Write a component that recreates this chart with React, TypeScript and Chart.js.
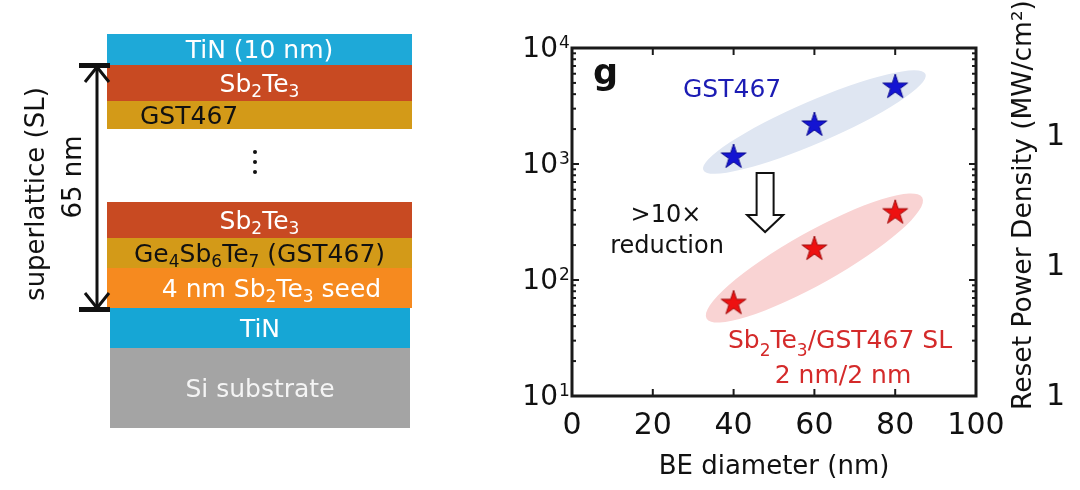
import React, { useEffect, useRef } from "react";
import { Chart, registerables } from "chart.js";

Chart.register(...registerables);

const FONT = "'DejaVu Sans', 'Liberation Sans', Arial, sans-serif";

// ---- data ----
const diameters = [40, 60, 80];
const gst467Density = [1150, 2170, 4600];
const slDensity = [63, 185, 380];
const xTickValues = [0, 20, 40, 60, 80, 100];
const yDecadeExponents = [1, 2, 3, 4];
const rightTickValues = [0, 1, 2];
const rightTickLabels = ["1", "1", "1"];
const seriesNames = ["GST467", "Sb2Te3/GST467 SL"];

function makeStar(fill: string, edge: string, R: number) {
  const c = document.createElement("canvas");
  const s = Math.ceil(2 * R + 4);
  c.width = s;
  c.height = s;
  const ctx = c.getContext("2d")!;
  const cx = s / 2;
  const cy = s / 2;
  ctx.beginPath();
  for (let i = 0; i < 10; i++) {
    const r = i % 2 === 0 ? R : R * 0.382;
    const a = -Math.PI / 2 + (i * Math.PI) / 5;
    const x = cx + r * Math.cos(a);
    const y = cy + r * Math.sin(a);
    if (i === 0) ctx.moveTo(x, y);
    else ctx.lineTo(x, y);
  }
  ctx.closePath();
  ctx.fillStyle = fill;
  ctx.fill();
  ctx.strokeStyle = edge;
  ctx.lineWidth = 1;
  ctx.stroke();
  return c;
}

type Part = [string, boolean];

function drawRich(ctx: CanvasRenderingContext2D, parts: Part[], x: number, y: number, size: number) {
  const subSize = size * 0.68;
  const widths = parts.map(([t, sub]) => {
    ctx.font = `${sub ? subSize : size}px ${FONT}`;
    return ctx.measureText(t).width;
  });
  const total = widths.reduce((a, b) => a + b, 0);
  let cx = x - total / 2;
  ctx.textAlign = "left";
  ctx.textBaseline = "alphabetic";
  parts.forEach(([t, sub], i) => {
    ctx.font = `${sub ? subSize : size}px ${FONT}`;
    ctx.fillText(t, cx, sub ? y + size * 0.32 : y);
    cx += widths[i];
  });
}

const decorPlugin = {
  id: "decor",
  beforeDatasetsDraw(chart: any) {
    const ctx = chart.ctx as CanvasRenderingContext2D;
    const specs: [number, string, number, number][] = [
      [0, "#dfe6f2", 33, 21],
      [1, "#f9d3d3", 31, 26],
    ];
    specs.forEach(([di, color, pad, b]) => {
      const meta = chart.getDatasetMeta(di);
      const p0 = meta.data[0];
      const p1 = meta.data[meta.data.length - 1];
      const cx = (p0.x + p1.x) / 2;
      const cy = (p0.y + p1.y) / 2;
      const ang = Math.atan2(p1.y - p0.y, p1.x - p0.x);
      const a = Math.hypot(p1.x - p0.x, p1.y - p0.y) / 2 + pad;
      ctx.save();
      ctx.fillStyle = color;
      ctx.beginPath();
      ctx.ellipse(cx, cy, a, b, ang, 0, Math.PI * 2);
      ctx.fill();
      ctx.restore();
    });
  },
  afterDraw(chart: any) {
    const ctx = chart.ctx as CanvasRenderingContext2D;
    const ca = chart.chartArea;
    const xs = chart.scales.x;
    const ys = chart.scales.y;
    const y2 = chart.scales.y2;
    const line = (x1: number, y1: number, x2: number, yb: number) => {
      ctx.beginPath();
      ctx.moveTo(x1, y1);
      ctx.lineTo(x2, yb);
      ctx.stroke();
    };
    ctx.save();
    ctx.strokeStyle = "#1a1a1a";
    ctx.lineWidth = 2;
    // x ticks (inward, bottom and top)
    xTickValues.forEach((v) => {
      if (v <= xs.min || v >= xs.max) return;
      const px = xs.getPixelForValue(v);
      line(px, ca.bottom, px, ca.bottom - 7);
      line(px, ca.top, px, ca.top + 7);
    });
    // y ticks (log, inward, left and right)
    yDecadeExponents.forEach((e) => {
      const base = Math.pow(10, e);
      const py = ys.getPixelForValue(base);
      line(ca.left, py, ca.left + 7, py);
      line(ca.right, py, ca.right - 7, py);
      for (let m = 2; m <= 9; m++) {
        const v = m * base;
        if (v >= ys.max) break;
        const pm = ys.getPixelForValue(v);
        line(ca.left, pm, ca.left + 4, pm);
        line(ca.right, pm, ca.right - 4, pm);
      }
    });
    // box
    ctx.lineWidth = 3;
    ctx.strokeRect(ca.left, ca.top, ca.right - ca.left, ca.bottom - ca.top);

    // y tick labels 10^n
    ctx.fillStyle = "#111";
    yDecadeExponents.forEach((e) => {
      const py = ys.getPixelForValue(Math.pow(10, e));
      ctx.font = `28px ${FONT}`;
      ctx.textAlign = "right";
      ctx.textBaseline = "middle";
      ctx.fillText("10", ca.left - 14, py + 2);
      ctx.font = `17px ${FONT}`;
      ctx.textAlign = "left";
      ctx.fillText(String(e), ca.left - 13, py - 4);
    });

    // right-hand tick labels
    ctx.font = `30px ${FONT}`;
    ctx.textAlign = "left";
    ctx.textBaseline = "middle";
    rightTickValues.forEach((v, i) => {
      ctx.fillText(rightTickLabels[i], ca.right + 70, y2.getPixelForValue(v) + 1);
    });

    // right axis title (reads bottom-to-top)
    ctx.save();
    ctx.translate(ca.right + 55, ca.bottom + 14);
    ctx.rotate(-Math.PI / 2);
    ctx.font = `26.5px ${FONT}`;
    ctx.textAlign = "left";
    ctx.textBaseline = "alphabetic";
    ctx.fillStyle = "#111";
    ctx.fillText("Reset Power Density (MW/cm\u00B2)", 0, 0);
    ctx.restore();

    // panel letter
    ctx.font = `bold 35px ${FONT}`;
    ctx.textAlign = "left";
    ctx.textBaseline = "alphabetic";
    ctx.fillStyle = "#111";
    ctx.fillText("g", ca.left + 21, ca.top + 36);

    // series labels
    ctx.fillStyle = "#1c1cb4";
    ctx.font = `25px ${FONT}`;
    ctx.fillText(seriesNames[0], ca.left + 111, ca.top + 49);

    ctx.fillStyle = "#d42a2a";
    drawRich(ctx, [["Sb", false], ["2", true], ["Te", false], ["3", true], ["/GST467 SL", false]], ca.left + 268, ca.top + 300, 25);
    drawRich(ctx, [["2 nm/2 nm", false]], ca.left + 271, ca.top + 335, 25);

    // reduction note
    ctx.fillStyle = "#111";
    ctx.font = `24px ${FONT}`;
    ctx.textAlign = "center";
    ctx.fillText(">10\u00D7", ca.left + 94, ca.top + 174);
    ctx.fillText("reduction", ca.left + 95, ca.top + 205);

    // hollow down arrow
    const ax = xs.getPixelForValue(47.8);
    const at = ca.top + 125;
    ctx.beginPath();
    ctx.moveTo(ax - 8.5, at);
    ctx.lineTo(ax + 8.5, at);
    ctx.lineTo(ax + 8.5, at + 42);
    ctx.lineTo(ax + 18, at + 42);
    ctx.lineTo(ax, at + 59);
    ctx.lineTo(ax - 18, at + 42);
    ctx.lineTo(ax - 8.5, at + 42);
    ctx.closePath();
    ctx.fillStyle = "#fff";
    ctx.fill();
    ctx.lineWidth = 2;
    ctx.strokeStyle = "#111";
    ctx.stroke();
    ctx.restore();
  },
};

const subStyle: React.CSSProperties = { fontSize: "0.68em", verticalAlign: "-0.3em", lineHeight: 0 };

function Layer(props: {
  top: number;
  height: number;
  bg: string;
  color: string;
  left?: number;
  width?: number;
  justify?: string;
  pad?: number;
  children: React.ReactNode;
}) {
  const { top, height, bg, color, left = 107, width = 305, justify = "center", pad = 0, children } = props;
  return (
    <div
      style={{
        position: "absolute",
        top,
        left,
        width,
        height,
        background: bg,
        color,
        display: "flex",
        alignItems: "center",
        justifyContent: justify,
        paddingLeft: pad,
        boxSizing: "border-box",
        fontSize: 25,
        fontFamily: FONT,
        whiteSpace: "nowrap",
        lineHeight: 1,
      }}
    >
      <span>{children}</span>
    </div>
  );
}

function Stack() {
  const sb2te3 = (
    <>
      Sb<sub style={subStyle}>2</sub>Te<sub style={subStyle}>3</sub>
    </>
  );
  const rot = (cx: number, cy: number, text: string) => (
    <div
      style={{
        position: "absolute",
        left: cx,
        top: cy,
        transform: "translate(-50%, -50%) rotate(-90deg)",
        fontFamily: FONT,
        fontSize: 26,
        color: "#111",
        whiteSpace: "nowrap",
        lineHeight: 1,
      }}
    >
      {text}
    </div>
  );
  return (
    <div style={{ position: "absolute", left: 0, top: 0, width: 480, height: 490 }}>
      <Layer top={34} height={31} bg="#1ea9d8" color="#fff">TiN (10 nm)</Layer>
      <Layer top={65} height={36} bg="#c84a22" color="#fff">{sb2te3}</Layer>
      <Layer top={101} height={28} bg="#d39a18" color="#111" justify="flex-start" pad={33}>GST467</Layer>
      {[152, 162, 172].map((y) => (
        <div key={y} style={{ position: "absolute", left: 253, top: y - 2, width: 4, height: 4, borderRadius: 2, background: "#111" }} />
      ))}
      <Layer top={202} height={36} bg="#c84a22" color="#fff">{sb2te3}</Layer>
      <Layer top={238} height={30} bg="#d39a18" color="#111">
        <>
          Ge<sub style={subStyle}>4</sub>Sb<sub style={subStyle}>6</sub>Te<sub style={subStyle}>7</sub> (GST467)
        </>
      </Layer>
      <Layer top={268} height={40} bg="#f68a1f" color="#fff" pad={24}>
        <>4 nm {sb2te3} seed</>
      </Layer>
      <Layer top={308} height={40} left={110} width={300} bg="#16a6d5" color="#fff">TiN</Layer>
      <Layer top={348} height={80} left={110} width={300} bg="#a4a4a4" color="#f4f4f4">Si substrate</Layer>
      <svg width={480} height={490} style={{ position: "absolute", left: 0, top: 0 }}>
        <line x1={97} y1={66} x2={97} y2={309} stroke="#111" strokeWidth={3} />
        <rect x={79} y={63} width={31} height={5} fill="#111" />
        <rect x={79} y={307} width={31} height={5} fill="#111" />
        <polyline points="85,82 97,67 109,82" fill="none" stroke="#111" strokeWidth={3} />
        <polyline points="85,293 97,308 109,293" fill="none" stroke="#111" strokeWidth={3} />
      </svg>
      {rot(35, 194, "superlattice (SL)")}
      {rot(72, 177, "65 nm")}
    </div>
  );
}

export default function App() {
  const ref = useRef<HTMLCanvasElement | null>(null);
  useEffect(() => {
    if (!ref.current) return;
    const blueStar = makeStar("#1414d2", "#0a0a90", 13);
    const redStar = makeStar("#ee1111", "#a00a0a", 13);
    const chart = new Chart(ref.current, {
      type: "scatter",
      data: {
        datasets: [
          {
            label: seriesNames[0],
            data: diameters.map((d, i) => ({ x: d, y: gst467Density[i] })),
            pointStyle: blueStar as any,
            pointRadius: 13,
            showLine: false,
          },
          {
            label: seriesNames[1],
            data: diameters.map((d, i) => ({ x: d, y: slDensity[i] })),
            pointStyle: redStar as any,
            pointRadius: 13,
            showLine: false,
          },
        ],
      },
      options: {
        responsive: false,
        animation: false,
        layout: { padding: { top: 48, left: 0, right: 0, bottom: 0 } },
        plugins: { legend: { display: false }, tooltip: { enabled: false } },
        scales: {
          x: {
            type: "linear",
            position: "bottom",
            min: 0,
            max: 100,
            afterBuildTicks: (s: any) => {
              s.ticks = xTickValues.map((v) => ({ value: v }));
            },
            ticks: {
              font: { family: FONT, size: 30 },
              color: "#111",
              padding: 12,
              maxRotation: 0,
              autoSkip: false,
              callback: (v: any) => String(v),
            },
            grid: { display: false, drawTicks: false },
            border: { display: false },
            title: {
              display: true,
              text: "BE diameter (nm)",
              font: { family: FONT, size: 26 },
              color: "#111",
              padding: { top: 0, bottom: 7 },
            },
            afterFit: (s: any) => {
              s.height = 94;
            },
          },
          y: {
            type: "logarithmic",
            position: "left",
            min: 10,
            max: 10000,
            ticks: { display: false },
            grid: { display: false, drawTicks: false },
            border: { display: false },
            afterFit: (s: any) => {
              s.width = 572;
            },
          },
          y2: {
            type: "linear",
            position: "right",
            min: 0,
            max: 2.68,
            ticks: { display: false },
            grid: { display: false, drawTicks: false },
            border: { display: false },
            afterFit: (s: any) => {
              s.width = 104;
            },
          },
        },
      } as any,
      plugins: [decorPlugin],
    });
    return () => chart.destroy();
  }, []);

  return (
    <div style={{ position: "fixed", left: 0, top: 0, width: 1080, height: 490, background: "#fff", overflow: "hidden" }}>
      <canvas ref={ref} width={1080} height={490} style={{ position: "absolute", left: 0, top: 0, width: 1080, height: 490 }} />
      <Stack />
    </div>
  );
}
